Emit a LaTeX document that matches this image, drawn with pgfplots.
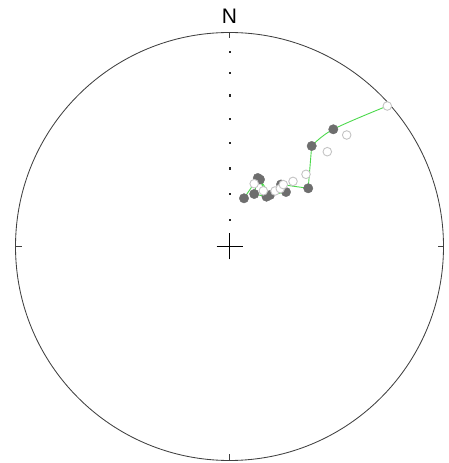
\documentclass[border=0pt]{standalone}
\usepackage{pgfplots}
\pgfplotsset{compat=1.18}
\usepackage{fontspec}
\setmainfont{Liberation Sans}
\definecolor{fillg}{HTML}{6E6E6E}
\definecolor{openg}{HTML}{C4C4C4}
\definecolor{pathg}{HTML}{4CD94C}
\begin{document}
\begin{tikzpicture}
\begin{axis}[scale only axis, width=448pt, height=463pt,
  xmin=-229.5, xmax=218.5, ymin=-216.5, ymax=246.5,
  axis lines=none, clip=false]
\path[draw=none] (rel axis cs:0,0) rectangle (rel axis cs:1,1);
% primitive circle and ticks
\draw[black!75, line width=0.85pt] (axis cs:0,0) circle[radius=214];
\draw[black!75, line width=0.85pt] (axis cs:0,214) -- (axis cs:0,208);
\draw[black!75, line width=0.85pt] (axis cs:0,-214) -- (axis cs:0,-208);
\draw[black!75, line width=0.85pt] (axis cs:-214,0) -- (axis cs:-208,0);
\draw[black!75, line width=0.85pt] (axis cs:214,0) -- (axis cs:208,0);
% centre cross
\draw[black, line width=0.9pt] (axis cs:-13,0) -- (axis cs:13,0);
\draw[black, line width=0.9pt] (axis cs:0,-13) -- (axis cs:0,13);
% inclination ticks on N axis
\addplot[only marks, mark=square*, mark size=0.6pt, black!85] coordinates {
(0,26.4)(0,52.6)(0,78.3)(0,103.5)(0,128)(0,151.3)(0,173.6)(0,194.5)};
\node[font=\fontsize{21}{21}\selectfont] at (axis cs:0,230.5) {N};
% demagnetisation path
\addplot[pathg, line width=0.9pt, mark=none, smooth, tension=0.6] coordinates {
(157.8,140.5)(103.8,117.2)(82.2,100.5)};
\addplot[pathg, line width=0.9pt, mark=none] coordinates {
(82.2,100.5)(78.7,58.2)(51.5,62)(56.5,54.5)
(40.5,51.5)(30.5,67)(37,49.8)(24.7,52.5)(28.3,68.5)(14.5,48.2)};
% lower hemisphere (filled)
\addplot[only marks, mark=*, mark size=4.7pt, mark options={fill=fillg, draw=fillg}] coordinates {
(14.5,48.2)(24.7,52.5)(28.3,68.5)(30.5,67)(37,49.8)(40.5,51.5)
(51.5,62)(56.5,54.5)(78.7,58.2)(82.2,100.5)(103.8,117.2)};
% upper hemisphere (open)
\addplot[only marks, mark=*, mark size=4.3pt, mark options={fill=white, draw=openg, line width=0.9pt}] coordinates {
(24.7,62.8)(33.8,55.7)(45.5,55.5)(50.8,57.9)(53.8,61.9)(63.5,65.1)
(76.5,72.2)(97.8,94.8)(117.2,111.5)(157.8,140.5)};
\end{axis}
\end{tikzpicture}
\end{document}
